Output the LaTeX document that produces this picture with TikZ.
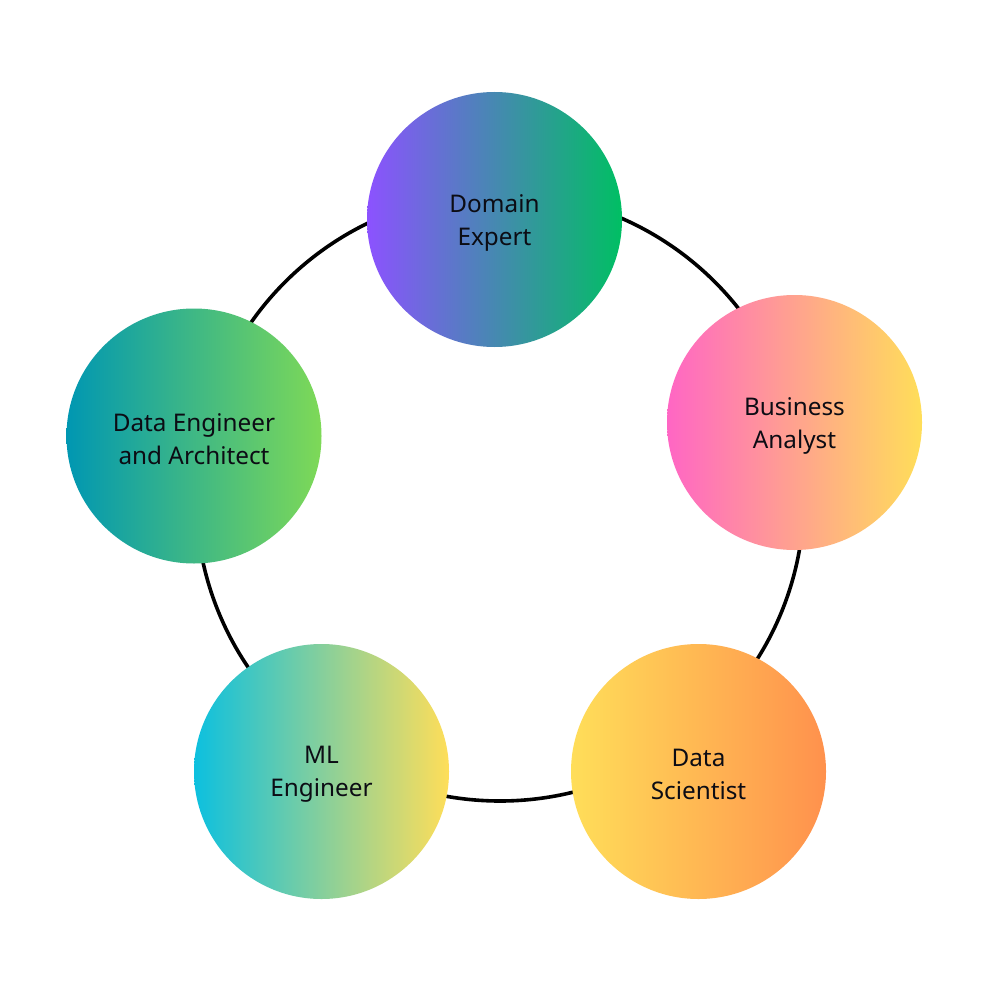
\documentclass[tikz,border=0pt]{standalone}
\usepackage{fontspec}
\setmainfont{Noto Sans}
\definecolor{purp}{HTML}{8C52FF}
\definecolor{grn}{HTML}{00BF63}
\definecolor{pink}{HTML}{FF66C4}
\definecolor{yel}{HTML}{FFDE59}
\definecolor{orng}{HTML}{FF914D}
\definecolor{cyan1}{HTML}{0CC0DF}
\definecolor{teal1}{HTML}{0097B2}
\definecolor{lgrn}{HTML}{7ED957}
\definecolor{txt}{HTML}{0C0C14}
\begin{document}
\begin{tikzpicture}[x=1pt,y=-1pt,
  role/.style={circle, minimum size=255pt, inner sep=0pt},
  roletext/.style={align=center, inner sep=0pt, text=txt,
    font={\fontsize{24.3}{33}\selectfont}}]
\useasboundingbox[fill=white] (0,0) rectangle (1000,1000);
\node[circle, draw=black, line width=3.6pt, minimum size=608pt, inner sep=0pt] (ring) at (500,497) {};
\node[role, left color=purp, right color=grn] (de) at (494.5,219.5) {};
\node[role, left color=pink, right color=yel] (ba) at (794.5,422.5) {};
\node[role, left color=yel, right color=orng] (ds) at (698.5,771.5) {};
\node[role, left color=cyan1, right color=yel] (ml) at (321.5,771.5) {};
\node[role, left color=teal1, right color=lgrn] (dea) at (194,436) {};
\node[roletext] (det) at ([yshift=-3pt]de.center) {Domain\\Expert};
\node[roletext] (bat) at ([yshift=-3pt]ba.center) {Business\\Analyst};
\node[roletext] (dst) at ([yshift=-3pt]ds.center) {Data\\Scientist};
\node[roletext] (mlt) at ([yshift=-3pt]ml.center) {ML\\Engineer};
\node[roletext] (deat) at ([yshift=-3pt]dea.center) {Data Engineer\\and Architect};
\end{tikzpicture}
\end{document}
